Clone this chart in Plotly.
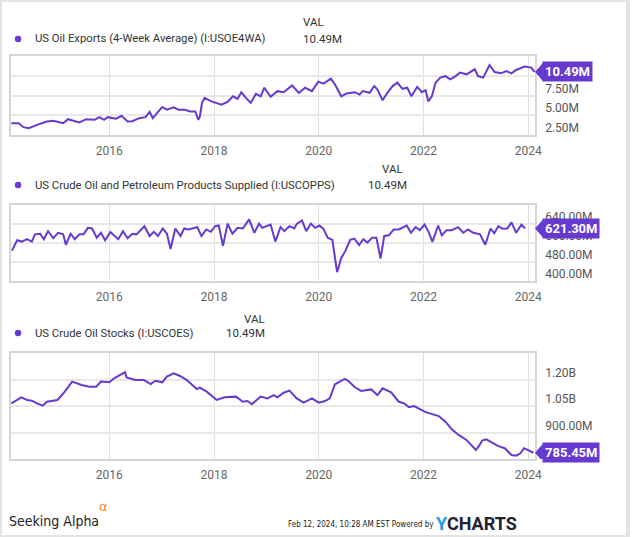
import plotly.graph_objects as go

W, H = 635, 537
PURPLE = "#6639cf"
GRID = "#e8e8e8"
FRAME = "#d6d6d6"

# --- data (decimal years, values) ---
exports_t = [2014.13, 2014.27, 2014.36, 2014.46, 2014.62, 2014.81, 2014.93, 2015.12, 2015.21, 2015.43,
             2015.56, 2015.72, 2015.81, 2015.90, 2015.97, 2016.13, 2016.23, 2016.35, 2016.44, 2016.57,
             2016.69, 2016.77, 2016.83, 2016.91, 2017.01, 2017.10, 2017.23, 2017.32, 2017.45, 2017.54,
             2017.64, 2017.70, 2017.73, 2017.77, 2017.82, 2017.95, 2018.14, 2018.26, 2018.36, 2018.45,
             2018.52, 2018.61, 2018.70, 2018.80, 2018.89, 2018.96, 2019.08, 2019.21, 2019.33, 2019.49,
             2019.62, 2019.74, 2019.87, 2019.99, 2020.09, 2020.23, 2020.31, 2020.43, 2020.53, 2020.69,
             2020.78, 2020.84, 2020.97, 2021.06, 2021.12, 2021.22, 2021.31, 2021.41, 2021.50, 2021.60,
             2021.69, 2021.77, 2021.88, 2021.97, 2022.04, 2022.09, 2022.16, 2022.23, 2022.32, 2022.42,
             2022.51, 2022.60, 2022.70, 2022.82, 2022.98, 2023.04, 2023.14, 2023.26, 2023.36, 2023.48,
             2023.58, 2023.68, 2023.77, 2023.93, 2024.06, 2024.12]
exports_v = [4.0, 4.0, 3.49, 3.36, 3.78, 4.2, 4.29, 4.0, 4.5, 4.08,
             4.5, 4.42, 4.76, 4.42, 4.76, 4.55, 4.93, 4.2, 4.25, 4.63,
             4.76, 5.44, 4.63, 5.28, 6.05, 5.7, 6.0, 5.7, 5.7, 5.48,
             5.48, 4.42, 4.84, 6.56, 7.2, 6.76, 6.34, 6.68, 7.4, 7.07,
             7.92, 7.2, 6.56, 7.71, 7.4, 8.48, 7.33, 8.05, 7.92, 8.77,
             7.84, 8.48, 8.05, 9.25, 9.0, 9.63, 8.9, 7.4, 7.75, 7.92,
             7.62, 8.05, 7.84, 8.69, 8.26, 6.89, 7.84, 8.69, 9.12, 8.35,
             8.48, 7.4, 8.6, 7.92, 8.17, 6.76, 7.4, 9.12, 9.76, 9.96,
             9.54, 9.89, 10.4, 10.18, 10.82, 9.96, 9.76, 11.33, 10.47, 10.31,
             10.6, 10.31, 10.73, 11.16, 11.03, 10.49]

supplied_t = [2014.14, 2014.24, 2014.33, 2014.43, 2014.52, 2014.58, 2014.68, 2014.75, 2014.83, 2014.93,
              2015.02, 2015.12, 2015.17, 2015.26, 2015.34, 2015.43, 2015.51, 2015.59, 2015.67, 2015.76,
              2015.84, 2015.92, 2016.02, 2016.09, 2016.17, 2016.26, 2016.35, 2016.44, 2016.52, 2016.67,
              2016.77, 2016.85, 2016.93, 2017.02, 2017.10, 2017.17, 2017.26, 2017.36, 2017.43, 2017.51,
              2017.68, 2017.76, 2017.85, 2017.94, 2018.02, 2018.09, 2018.17, 2018.26, 2018.35, 2018.45,
              2018.55, 2018.67, 2018.77, 2018.86, 2018.92, 2019.08, 2019.17, 2019.27, 2019.34, 2019.44,
              2019.53, 2019.58, 2019.68, 2019.76, 2019.85, 2019.93, 2020.01, 2020.09, 2020.17, 2020.26,
              2020.35, 2020.43, 2020.51, 2020.60, 2020.68, 2020.77, 2020.85, 2020.93, 2021.02, 2021.10,
              2021.18, 2021.25, 2021.34, 2021.43, 2021.53, 2021.68, 2021.76, 2021.85, 2021.93, 2022.02,
              2022.10, 2022.17, 2022.28, 2022.35, 2022.44, 2022.54, 2022.66, 2022.76, 2022.85, 2022.95,
              2023.08, 2023.18, 2023.28, 2023.35, 2023.43, 2023.51, 2023.60, 2023.68, 2023.77, 2023.87,
              2023.94]
supplied_v = [527.7, 571.8, 566, 576, 566, 596.5, 599, 576, 610, 580,
              603, 596.5, 552.4, 599, 576, 596.5, 596.5, 623.7, 621, 582.5,
              603, 571.8, 606, 593.6, 576, 610, 580, 599, 596.5, 630.7,
              589.5, 607, 589.5, 621, 599, 534.7, 621, 589.5, 621, 617,
              626.6, 589.5, 617, 607, 630.7, 633.6, 548, 641.8, 599, 623.7,
              621, 659.6, 603, 641.8, 623.7, 637.7, 566, 626.6, 610, 630.7,
              621, 640, 655, 610, 641.8, 623.7, 633.6, 619.6, 582.5, 573,
              437, 497, 527.7, 573, 578.5, 551, 576, 562, 582.5, 582.5,
              495, 589.5, 592.4, 617, 617, 633.6, 603, 626.6, 614, 637.7,
              606, 565, 633.6, 592.4, 614, 614, 626.6, 603, 617, 603,
              596.5, 552.4, 621, 601, 630.7, 619.6, 621, 647, 603, 637.7,
              621.3]

stocks_t = [2014.13, 2014.21, 2014.32, 2014.43, 2014.52, 2014.62, 2014.73, 2014.81, 2015.01, 2015.15,
            2015.29, 2015.47, 2015.62, 2015.75, 2015.84, 2016.00, 2016.09, 2016.20, 2016.30, 2016.33,
            2016.50, 2016.66, 2016.79, 2016.88, 2017.01, 2017.10, 2017.23, 2017.35, 2017.48, 2017.67,
            2017.73, 2017.86, 2018.05, 2018.20, 2018.42, 2018.55, 2018.64, 2018.72, 2018.89, 2019.02,
            2019.14, 2019.21, 2019.33, 2019.44, 2019.58, 2019.71, 2019.87, 2020.00, 2020.12, 2020.21,
            2020.31, 2020.40, 2020.50, 2020.56, 2020.69, 2020.81, 2020.94, 2021.00, 2021.12, 2021.22,
            2021.38, 2021.53, 2021.63, 2021.72, 2021.82, 2021.94, 2022.04, 2022.29, 2022.42, 2022.54,
            2022.67, 2022.82, 2022.92, 2023.00, 2023.06, 2023.12, 2023.20, 2023.30, 2023.42, 2023.55,
            2023.68, 2023.77, 2023.85, 2023.92, 2023.99, 2024.10]
stocks_v = [1065, 1080, 1099, 1084, 1080, 1065, 1052, 1074, 1084, 1131,
            1188, 1169, 1159, 1159, 1188, 1184, 1207, 1225, 1241, 1212,
            1197, 1197, 1174, 1193, 1184, 1216, 1235, 1220, 1197, 1146,
            1154, 1131, 1084, 1099, 1103, 1074, 1078, 1060, 1103, 1093,
            1112, 1099, 1125, 1137, 1093, 1069, 1093, 1069, 1078, 1093,
            1173, 1188, 1203, 1193, 1156, 1135, 1140, 1144, 1112, 1150,
            1127, 1074, 1065, 1043, 1050, 1031, 1015, 993, 961, 918,
            886, 858, 824, 801, 824, 854, 861, 842, 824, 811,
            773, 769, 782, 811, 801, 785.45]

year_ticks = [2016, 2018, 2020, 2022, 2024]
year_labels = ["2016", "2018", "2020", "2022", "2024"]

panels = [
    dict(name="US Oil Exports (4-Week Average) (I:USOE4WA)", t=exports_t, v=exports_v,
         last="10.49M", rng=[2.5, 12.5], ticks=[2.5, 5.0, 7.5, 10.0],
         tlabels=["2.50M", "5.00M", "7.50M", "10.00M"], top=56, bottom=135,
         leg_y=39, val_hdr=(304, 22, "left"), val=(304, "left")),
    dict(name="US Crude Oil and Petroleum Products Supplied (I:USCOPPS)", t=supplied_t, v=supplied_v,
         last="621.30M", rng=[400, 720], ticks=[400, 480, 560, 640],
         tlabels=["400.00M", "480.00M", "560.00M", "640.00M"], top=205, bottom=281,
         leg_y=185, val_hdr=(410, 169, "right"), val=(414, "right")),
    dict(name="US Crude Oil Stocks (I:USCOES)", t=stocks_t, v=stocks_v,
         last="785.45M", rng=[750, 1350], ticks=[750, 900, 1050, 1200],
         tlabels=["750.00M", "900.00M", "1.05B", "1.20B"], top=353, bottom=459,
         leg_y=333, val_hdr=(270, 319, "right"), val=(270, "right")),
]


def px(x):
    return x / W


def py(y):
    return 1 - y / H


X0, X1 = 11, 541
fig = go.Figure()
shapes, annotations = [], []
layout = {}

for i, p in enumerate(panels, start=1):
    sfx = "" if i == 1 else str(i)
    fig.add_trace(go.Scatter(
        x=p["t"], y=p["v"], mode="lines",
        line=dict(color=PURPLE, width=2),
        xaxis=f"x{sfx}", yaxis=f"y{sfx}", showlegend=False, hoverinfo="skip",
    ))
    layout[f"xaxis{sfx}"] = dict(
        domain=[px(X0), px(X1)], range=[2014.12, 2024.13], anchor=f"y{sfx}",
        tickvals=year_ticks, ticktext=year_labels, showgrid=True, gridcolor="#e0e0e0",
        gridwidth=1, showline=True, mirror=True, linecolor=FRAME, linewidth=1.5,
        ticks="", zeroline=False, ticklabelstandoff=4,
        tickfont=dict(family="Roboto", size=12, color="#666666"),
    )
    # labels sit a few pixels above their gridline, as in the original
    layout[f"yaxis{sfx}"] = dict(
        domain=[py(p["bottom"]), py(p["top"])], range=p["rng"], anchor=f"x{sfx}", side="right",
        tickvals=p["ticks"], ticktext=p["tlabels"], showgrid=True, gridcolor=GRID, gridwidth=2,
        showline=True, mirror=True, linecolor=FRAME, linewidth=1.5, ticks="", zeroline=False,
        ticklabelshift=-7, ticklabelstandoff=6,
        tickfont=dict(family="Roboto", size=12, color="#555555"),
    )

    # legend row
    ly = p["leg_y"]
    shapes.append(dict(type="circle", xref="paper", yref="paper",
                       x0=px(15), x1=px(21.5), y0=py(ly + 3.2), y1=py(ly - 3.2),
                       fillcolor=PURPLE, line=dict(width=0)))
    annotations.append(dict(text=p["name"], x=px(33), y=py(ly), xref="paper", yref="paper",
                            xanchor="left", yanchor="middle", showarrow=False,
                            font=dict(family="Roboto", size=11.3, color="#333333")))
    hx, hy, ha = p["val_hdr"]
    annotations.append(dict(text="VAL", x=px(hx), y=py(hy), xref="paper", yref="paper",
                            xanchor=ha, yanchor="middle", showarrow=False,
                            font=dict(family="Roboto", size=11.5, color="#333333")))
    vx, va = p["val"]
    annotations.append(dict(text="10.49M", x=px(vx), y=py(ly), xref="paper", yref="paper",
                            xanchor=va, yanchor="middle", showarrow=False,
                            font=dict(family="Roboto", size=11.5, color="#333333")))

    # last value tag
    last_v = p["v"][-1]
    per_px = (p["rng"][1] - p["rng"][0]) / (p["bottom"] - p["top"])
    h = 9 * per_px
    shapes.append(dict(type="path", xref="paper", yref=f"y{sfx}",
                       path=f"M {px(541)},{last_v} L {px(549)},{last_v + h} L {px(549)},{last_v - h} Z",
                       fillcolor=PURPLE, line=dict(width=0)))
    annotations.append(dict(text=f"<b>{p['last']}</b>", x=px(548), y=last_v, xref="paper",
                            yref=f"y{sfx}", xanchor="left", yanchor="middle", showarrow=False,
                            bgcolor=PURPLE, borderpad=2,
                            font=dict(family="Roboto", size=13, color="white")))

# outer frame
shapes.append(dict(type="rect", xref="paper", yref="paper", x0=0, x1=1, y0=0, y1=1,
                   line=dict(color="#e4e4e4", width=4)))

# footer
annotations += [
    dict(text="Seeking Alpha", x=px(7), y=py(521), xref="paper", yref="paper", xanchor="left",
         yanchor="middle", showarrow=False,
         font=dict(family="DejaVu Sans Condensed, Roboto", size=14, color="#222222")),
    dict(text="α", x=px(98), y=py(506), xref="paper", yref="paper", xanchor="left",
         yanchor="middle", showarrow=False,
         font=dict(family="DejaVu Sans", size=13, color="#f08a24")),
    dict(text="Feb 12, 2024, 10:28 AM EST Powered by", x=px(441), y=py(524), xref="paper",
         yref="paper", xanchor="right", yanchor="middle", showarrow=False,
         font=dict(family="DejaVu Sans Condensed, Roboto", size=8, color="#222222")),
    dict(text="<span style='color:#1e9bf0'><b>Y</b></span><b>CHARTS</b>", x=px(439), y=py(523),
         xref="paper", yref="paper", xanchor="left", yanchor="middle", showarrow=False,
         font=dict(family="Roboto", size=18, color="#222233")),
]

fig.update_layout(
    width=W, height=H, autosize=False,
    margin=dict(l=0, r=0, t=0, b=0),
    paper_bgcolor="white", plot_bgcolor="white",
    shapes=shapes, annotations=annotations,
    **layout,
)

# pin the plot to the window corner so the page margin does not shift it
pin = (
    "document.documentElement.style.overflow='hidden';"
    "document.body.style.margin='0';document.body.style.overflow='hidden';"
    "var gd=document.getElementsByClassName('plotly-graph-div')[0];"
    "gd.style.position='fixed';gd.style.left='0px';gd.style.top='0px';"
)
fig.write_html("out.html", config={"displayModeBar": False}, post_script=pin)
